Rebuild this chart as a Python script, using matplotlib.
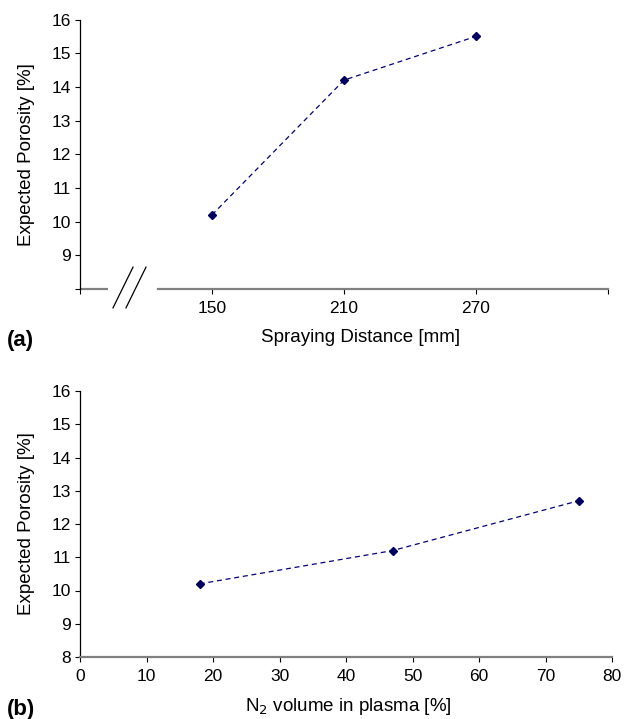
import matplotlib.pyplot as plt

plt.rcParams['font.family'] = ['Liberation Sans', 'DejaVu Sans']

# データ (a)
distance = [150, 210, 270]
porosity_a = [10.2, 14.2, 15.5]
dist_ticks = [90, 150, 210, 270, 330]
dist_labels = ['', '150', '210', '270', '']

# データ (b)
n2_volume = [18, 47, 75]
porosity_b = [10.2, 11.2, 12.7]
n2_ticks = [0, 10, 20, 30, 40, 50, 60, 70, 80]

y_ticks = list(range(8, 17))

W, H = 624, 719
fig = plt.figure(figsize=(W / 100, H / 100), dpi=100)

def box(l, r, t, b):
    return [l / W, 1 - b / H, (r - l) / W, (b - t) / H]

line_kw = dict(color='#000080', linestyle=(0, (4, 3)), linewidth=0.9,
               marker='D', markersize=3.8, markerfacecolor='#000060',
               markeredgecolor='#000060')

def style(ax):
    ax.spines['top'].set_visible(False)
    ax.spines['right'].set_visible(False)
    ax.spines['left'].set_linewidth(0.9)
    ax.spines['bottom'].set_color('#808080')
    ax.spines['bottom'].set_linewidth(1.6)
    ax.tick_params(direction='out', length=3.5, width=0.8, labelsize=12.5, pad=3)
    ax.tick_params(axis='x', pad=5)
    ax.set_ylim(8, 16)
    ax.set_yticks(y_ticks)
    ax.set_ylabel('Expected Porosity [%]', fontsize=13.5, labelpad=12)

# (a) 溶射距離
ax1 = fig.add_axes(box(80, 608, 19.5, 289))
style(ax1)
ax1.plot(distance, porosity_a, **line_kw)
ax1.set_xlim(90, 330)
ax1.set_xticks(dist_ticks)
ax1.set_xticklabels(dist_labels)
ax1.set_yticklabels([''] + [str(v) for v in y_ticks[1:]])
ax1.spines['bottom'].set_bounds(125.5, 330)
ax1.plot([90, 102.7], [8, 8], color='#808080', linewidth=1.6, clip_on=False,
         solid_capstyle='butt')
ax1.plot([105, 114.1], [7.44, 8.65], color='black', linewidth=0.9, clip_on=False)
ax1.plot([110.9, 120], [7.44, 8.65], color='black', linewidth=0.9, clip_on=False)
ax1.set_xlabel('Spraying Distance [mm]', fontsize=13.5)
ax1.xaxis.set_label_coords(0.532, -0.150)

# (b) N2 体積
ax2 = fig.add_axes(box(80, 612, 391, 657))
style(ax2)
ax2.plot(n2_volume, porosity_b, **line_kw)
ax2.set_xlim(0, 80)
ax2.set_xticks(n2_ticks)
ax2.set_xlabel('N$_2$ volume in plasma [%]', fontsize=13.5)
ax2.xaxis.set_label_coords(0.505, -0.148)

fig.text(7 / W, 1 - 340 / H, '(a)', fontsize=16, fontweight='bold', va='center')
fig.text(7 / W, 1 - 709 / H, '(b)', fontsize=16, fontweight='bold', va='center')

fig.savefig('out.png', dpi=100)
